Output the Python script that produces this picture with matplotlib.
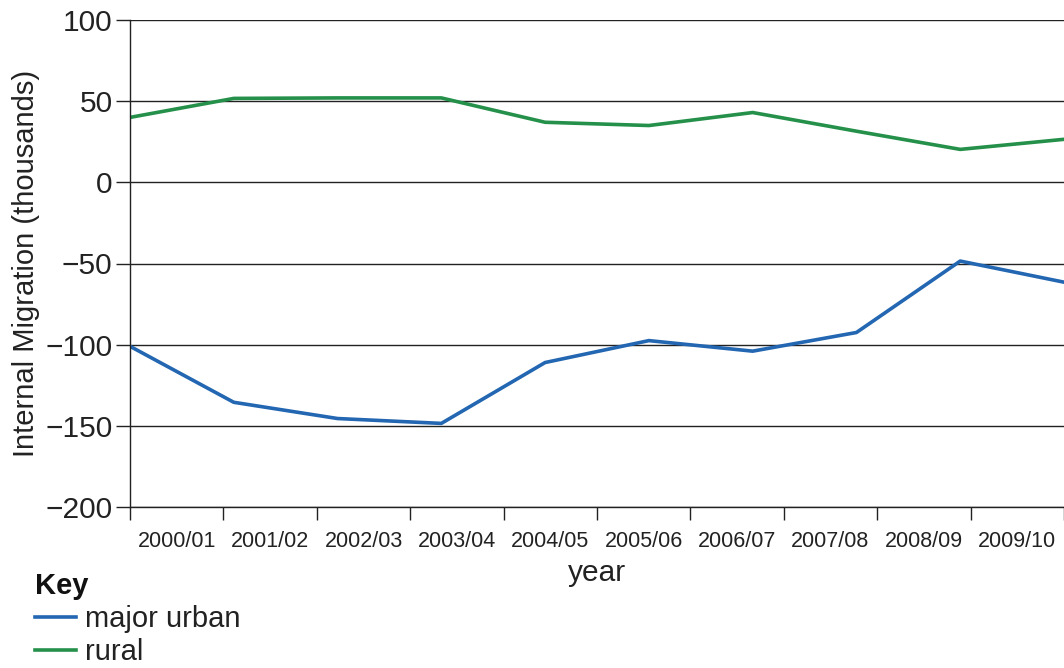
import numpy as np
import matplotlib.pyplot as plt

plt.rcParams['font.family'] = ['Liberation Sans', 'DejaVu Sans']

# anos (categorias do eixo x)
years = ['2000/01', '2001/02', '2002/03', '2003/04', '2004/05',
         '2005/06', '2006/07', '2007/08', '2008/09', '2009/10']

# migração interna (milhares)
major_urban = [-101, -135.5, -145.5, -148.5, -111, -97.5, -104, -92.5, -48.5, -61.5]
rural = [40, 51.7, 52, 52, 37, 35, 43, 31.5, 20.3, 26.5]

y_ticks = [100, 50, 0, -50, -100, -150, -200]

fig = plt.figure(figsize=(10.64, 6.68), dpi=100)
ax = fig.add_axes([130/1064, 1 - 507/668, 934/1064, 487/668])

n = len(years)
x = np.arange(n)
ax.plot(x, major_urban, color='#2366b1', lw=2.6, label='major urban')
ax.plot(x, rural, color='#24904a', lw=2.6, label='rural')

ax.set_xlim(0, n - 1)
ax.set_ylim(-200, 100)

# grelha horizontal em cada 50
ax.set_yticks(y_ticks)
ax.set_yticklabels([f'{v}'.replace('-', '\u2212') for v in y_ticks], fontsize=21.5)
for v in y_ticks:
    ax.axhline(v, color='#222222', lw=1.0, zorder=0)

# ticks nos limites das categorias, etiquetas no centro
edges = np.linspace(0, n - 1, n + 1)
ax.set_xticks(edges)
ax.set_xticklabels([])
ax.set_xticks((edges[:-1] + edges[1:]) / 2, minor=True)
ax.set_xticklabels(years, minor=True, fontsize=15.5)
ax.tick_params(axis='x', which='major', length=9, width=1, color='#222222', direction='out')
ax.tick_params(axis='x', which='minor', length=0, pad=17, labelcolor='#222222')
ax.tick_params(axis='y', length=10, width=1, color='#222222', pad=2.5, labelcolor='#222222')

for s in ['top', 'right']:
    ax.spines[s].set_visible(False)
for s in ['left', 'bottom']:
    ax.spines[s].set_color('#222222')
    ax.spines[s].set_linewidth(1.0)

ax.set_ylabel('Internal Migration (thousands)', fontsize=21, color='#222222', labelpad=4)
ax.set_xlabel('year', fontsize=21.5, color='#222222', labelpad=5)

leg = fig.legend(loc='upper left', bbox_to_anchor=(35/1064, 1 - 572/668), frameon=False,
                 title='Key', title_fontproperties={'weight': 'bold', 'size': 21},
                 fontsize=21, handlelength=1.4, handletextpad=0.3, labelspacing=0.18,
                 borderaxespad=0, borderpad=0)
leg._legend_box.align = 'left'
for t in leg.get_texts():
    t.set_color('#222222')
leg.get_title().set_color('#111111')

fig.savefig('out.png', dpi=100)
